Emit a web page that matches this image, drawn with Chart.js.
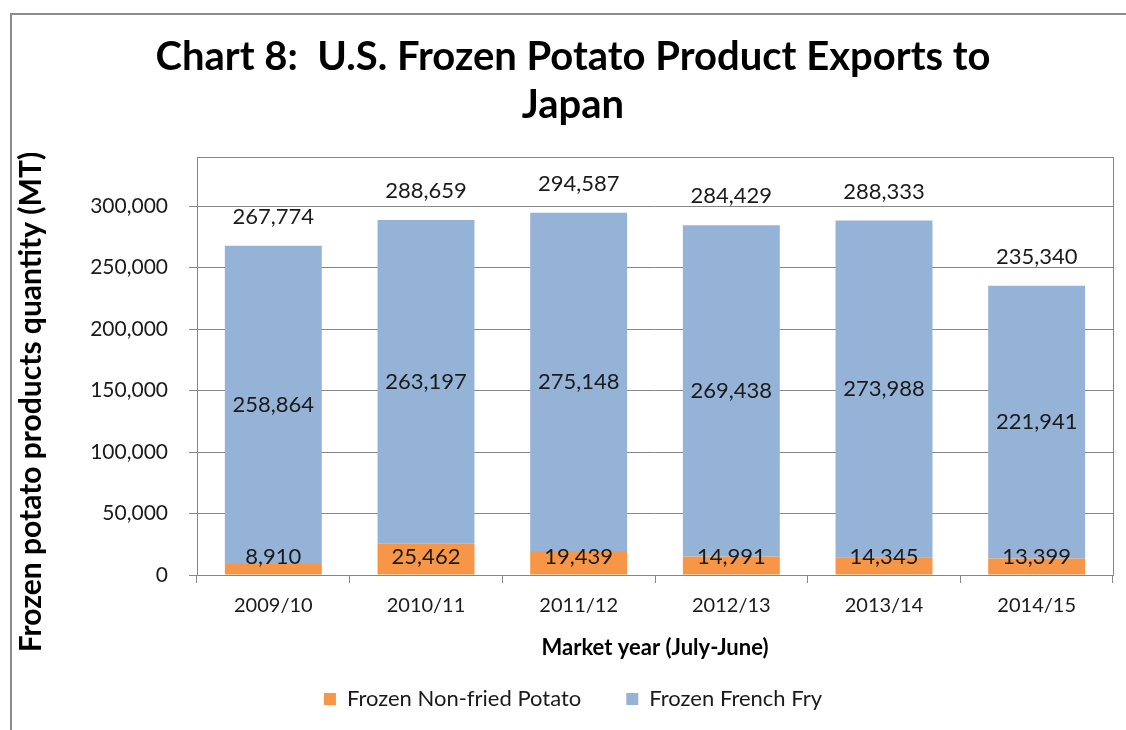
<!DOCTYPE html>
<html lang="en">
  <head>
    <meta charset="UTF-8" />
    <title>Chart 8</title>
    <style>
      html, body { margin: 0; padding: 0; background: #fff; }
      #wrap { position: relative; width: 1126px; height: 730px; }
    </style>
  </head>
  <body>
    <div id="wrap"><canvas id="bar" width="1126" height="730"></canvas></div>
    <script src="https://cdn.jsdelivr.net/npm/chart.js"></script>
    <script>
      const years = ["2009/10", "2010/11", "2011/12", "2012/13", "2013/14", "2014/15"];
      const nonFried = [8910, 25462, 19439, 14991, 14345, 13399];
      const frenchFry = [258864, 263197, 275148, 269438, 273988, 221941];
      const totals = [267774, 288659, 294587, 284429, 288333, 235340];
      const yTicks = [0, 50000, 100000, 150000, 200000, 250000, 300000];

      const font = "Lato, 'Liberation Sans', sans-serif";
      const fmt = (v) => v.toLocaleString("en-US");

      // frame, plot border, axis titles and data labels
      const extras = {
        id: "extras",
        beforeDraw(chart) {
          const ctx = chart.ctx;
          ctx.save();
          ctx.strokeStyle = "#8c8c8c";
          ctx.lineWidth = 2;
          ctx.beginPath();
          ctx.moveTo(11, 730);
          ctx.lineTo(11, 14);
          ctx.lineTo(1126, 14);
          ctx.stroke();
          ctx.restore();
        },
        afterDatasetsDraw(chart) {
          const ctx = chart.ctx;
          const a = chart.chartArea;
          ctx.save();
          ctx.strokeStyle = "#868686";
          ctx.lineWidth = 1;
          ctx.strokeRect(a.left + 0.5, a.top + 0.5, a.right - a.left, a.bottom - a.top);

          ctx.fillStyle = "#1a1a1a";
          ctx.font = "22px " + font;
          ctx.textAlign = "center";
          ctx.textBaseline = "middle";
          const m0 = chart.getDatasetMeta(0);
          const m1 = chart.getDatasetMeta(1);
          m1.data.forEach((bar, i) => {
            ctx.fillText(fmt(frenchFry[i]), bar.x, (bar.y + bar.base) / 2);
            ctx.fillText(fmt(totals[i]), bar.x, bar.y - 29);
          });
          m0.data.forEach((bar, i) => {
            ctx.fillText(fmt(nonFried[i]), bar.x, bar.base - 18);
          });

          ctx.fillStyle = "#000";
          ctx.font = "bold 22px " + font;
          ctx.fillText("Market year (July-June)", (a.left + a.right) / 2, 648);

          ctx.font = "bold 30px " + font;
          ctx.translate(31, 402);
          ctx.rotate(-Math.PI / 2);
          ctx.fillText("Frozen potato products quantity (MT)", 0, 0);
          ctx.restore();
        },
      };

      const chartData = {
        labels: years,
        datasets: [
          {
            label: "Frozen Non-fried Potato",
            data: nonFried,
            backgroundColor: "#f79646",
            barPercentage: 0.635,
            categoryPercentage: 1,
          },
          {
            label: "Frozen French Fry",
            data: frenchFry,
            backgroundColor: "#95b3d7",
            barPercentage: 0.635,
            categoryPercentage: 1,
          },
        ],
      };

      new Chart(document.getElementById("bar"), {
        type: "bar",
        data: chartData,
        plugins: [extras],
        options: {
          responsive: false,
          animation: false,
          layout: { padding: { left: 33, right: 13, top: 0, bottom: 10 } },
          plugins: {
            tooltip: { enabled: false },
            title: {
              display: true,
              text: ["Chart 8:  U.S. Frozen Potato Product Exports to", "Japan"],
              color: "#000",
              font: { family: font, size: 40, weight: "bold", lineHeight: 1.2 },
              padding: { top: 33, bottom: 28 },
            },
            legend: {
              position: "bottom",
              labels: {
                color: "#1a1a1a",
                font: { family: font, size: 22 },
                boxWidth: 12,
                boxHeight: 12,
                padding: 45,
              },
            },
          },
          scales: {
            x: {
              stacked: true,
              afterFit: (scale) => { scale.height = 68; },
              grid: {
                display: true,
                drawOnChartArea: false,
                offset: true,
                color: "#868686",
                tickLength: 8,
              },
              border: { color: "#868686" },
              ticks: { color: "#1a1a1a", font: { family: font, size: 20 }, padding: 11 },
            },
            y: {
              stacked: true,
              min: 0,
              max: 340000,
              afterFit: (scale) => { scale.width = 164; },
              afterBuildTicks: (scale) => { scale.ticks = yTicks.map((v) => ({ value: v })); },
              grid: { color: "#868686", tickLength: 8 },
              border: { color: "#868686" },
              ticks: {
                color: "#1a1a1a",
                font: { family: font, size: 21 },
                padding: 21,
                callback: (v) => fmt(v),
              },
            },
          },
        },
      });
    </script>
  </body>
</html>
